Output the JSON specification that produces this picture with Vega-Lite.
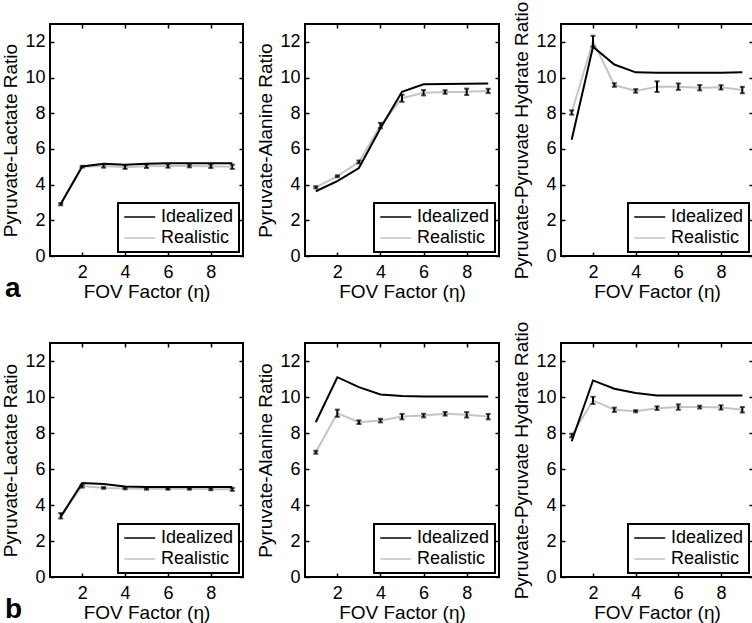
{
 "$schema": "https://vega.github.io/schema/vega-lite/v6.json",
 "padding": 0,
 "background": "white",
 "datasets": {"d": [
  {"p":"a1","s":"Idealized","x":1,"y":2.92},{"p":"a1","s":"Idealized","x":2,"y":5.02},{"p":"a1","s":"Idealized","x":3,"y":5.17},{"p":"a1","s":"Idealized","x":4,"y":5.12},{"p":"a1","s":"Idealized","x":5,"y":5.17},{"p":"a1","s":"Idealized","x":6,"y":5.2},{"p":"a1","s":"Idealized","x":7,"y":5.2},{"p":"a1","s":"Idealized","x":8,"y":5.2},{"p":"a1","s":"Idealized","x":9,"y":5.2},
  {"p":"a1","s":"Realistic","x":1,"y":2.9,"e":0.06},{"p":"a1","s":"Realistic","x":2,"y":5.0,"e":0.05},{"p":"a1","s":"Realistic","x":3,"y":5.05,"e":0.1},{"p":"a1","s":"Realistic","x":4,"y":4.98,"e":0.1},{"p":"a1","s":"Realistic","x":5,"y":5.03,"e":0.1},{"p":"a1","s":"Realistic","x":6,"y":5.05,"e":0.1},{"p":"a1","s":"Realistic","x":7,"y":5.05,"e":0.08},{"p":"a1","s":"Realistic","x":8,"y":5.03,"e":0.1},{"p":"a1","s":"Realistic","x":9,"y":5.0,"e":0.12},
  {"p":"a2","s":"Idealized","x":1,"y":3.63},{"p":"a2","s":"Idealized","x":2,"y":4.19},{"p":"a2","s":"Idealized","x":3,"y":4.93},{"p":"a2","s":"Idealized","x":4,"y":7.16},{"p":"a2","s":"Idealized","x":5,"y":9.2},{"p":"a2","s":"Idealized","x":6,"y":9.62},{"p":"a2","s":"Idealized","x":7,"y":9.64},{"p":"a2","s":"Idealized","x":8,"y":9.65},{"p":"a2","s":"Idealized","x":9,"y":9.67},
  {"p":"a2","s":"Realistic","x":1,"y":3.85,"e":0.06},{"p":"a2","s":"Realistic","x":2,"y":4.47,"e":0.05},{"p":"a2","s":"Realistic","x":3,"y":5.27,"e":0.08},{"p":"a2","s":"Realistic","x":4,"y":7.31,"e":0.15},{"p":"a2","s":"Realistic","x":5,"y":8.84,"e":0.2},{"p":"a2","s":"Realistic","x":6,"y":9.15,"e":0.15},{"p":"a2","s":"Realistic","x":7,"y":9.19,"e":0.1},{"p":"a2","s":"Realistic","x":8,"y":9.2,"e":0.18},{"p":"a2","s":"Realistic","x":9,"y":9.25,"e":0.12},
  {"p":"a3","s":"Idealized","x":1,"y":6.51},{"p":"a3","s":"Idealized","x":2,"y":11.72},{"p":"a3","s":"Idealized","x":3,"y":10.73},{"p":"a3","s":"Idealized","x":4,"y":10.29},{"p":"a3","s":"Idealized","x":5,"y":10.27},{"p":"a3","s":"Idealized","x":6,"y":10.27},{"p":"a3","s":"Idealized","x":7,"y":10.27},{"p":"a3","s":"Idealized","x":8,"y":10.27},{"p":"a3","s":"Idealized","x":9,"y":10.29},
  {"p":"a3","s":"Realistic","x":1,"y":8.04,"e":0.12},{"p":"a3","s":"Realistic","x":2,"y":12.04,"e":0.3},{"p":"a3","s":"Realistic","x":3,"y":9.58,"e":0.1},{"p":"a3","s":"Realistic","x":4,"y":9.25,"e":0.1},{"p":"a3","s":"Realistic","x":5,"y":9.49,"e":0.3},{"p":"a3","s":"Realistic","x":6,"y":9.49,"e":0.18},{"p":"a3","s":"Realistic","x":7,"y":9.43,"e":0.15},{"p":"a3","s":"Realistic","x":8,"y":9.45,"e":0.12},{"p":"a3","s":"Realistic","x":9,"y":9.3,"e":0.18},
  {"p":"b1","s":"Idealized","x":1,"y":3.34},{"p":"b1","s":"Idealized","x":2,"y":5.22},{"p":"b1","s":"Idealized","x":3,"y":5.16},{"p":"b1","s":"Idealized","x":4,"y":5.03},{"p":"b1","s":"Idealized","x":5,"y":5.0},{"p":"b1","s":"Idealized","x":6,"y":5.0},{"p":"b1","s":"Idealized","x":7,"y":5.0},{"p":"b1","s":"Idealized","x":8,"y":5.0},{"p":"b1","s":"Idealized","x":9,"y":5.0},
  {"p":"b1","s":"Realistic","x":1,"y":3.4,"e":0.15},{"p":"b1","s":"Realistic","x":2,"y":5.05,"e":0.08},{"p":"b1","s":"Realistic","x":3,"y":4.95,"e":0.05},{"p":"b1","s":"Realistic","x":4,"y":4.92,"e":0.05},{"p":"b1","s":"Realistic","x":5,"y":4.9,"e":0.05},{"p":"b1","s":"Realistic","x":6,"y":4.9,"e":0.05},{"p":"b1","s":"Realistic","x":7,"y":4.9,"e":0.05},{"p":"b1","s":"Realistic","x":8,"y":4.88,"e":0.06},{"p":"b1","s":"Realistic","x":9,"y":4.87,"e":0.08},
  {"p":"b2","s":"Idealized","x":1,"y":8.6},{"p":"b2","s":"Idealized","x":2,"y":11.1},{"p":"b2","s":"Idealized","x":3,"y":10.55},{"p":"b2","s":"Idealized","x":4,"y":10.14},{"p":"b2","s":"Idealized","x":5,"y":10.05},{"p":"b2","s":"Idealized","x":6,"y":10.03},{"p":"b2","s":"Idealized","x":7,"y":10.03},{"p":"b2","s":"Idealized","x":8,"y":10.03},{"p":"b2","s":"Idealized","x":9,"y":10.03},
  {"p":"b2","s":"Realistic","x":1,"y":6.93,"e":0.08},{"p":"b2","s":"Realistic","x":2,"y":9.1,"e":0.2},{"p":"b2","s":"Realistic","x":3,"y":8.6,"e":0.1},{"p":"b2","s":"Realistic","x":4,"y":8.69,"e":0.1},{"p":"b2","s":"Realistic","x":5,"y":8.91,"e":0.15},{"p":"b2","s":"Realistic","x":6,"y":8.97,"e":0.1},{"p":"b2","s":"Realistic","x":7,"y":9.07,"e":0.1},{"p":"b2","s":"Realistic","x":8,"y":9.01,"e":0.15},{"p":"b2","s":"Realistic","x":9,"y":8.91,"e":0.15},
  {"p":"b3","s":"Idealized","x":1,"y":7.54},{"p":"b3","s":"Idealized","x":2,"y":10.92},{"p":"b3","s":"Idealized","x":3,"y":10.46},{"p":"b3","s":"Idealized","x":4,"y":10.22},{"p":"b3","s":"Idealized","x":5,"y":10.09},{"p":"b3","s":"Idealized","x":6,"y":10.09},{"p":"b3","s":"Idealized","x":7,"y":10.09},{"p":"b3","s":"Idealized","x":8,"y":10.09},{"p":"b3","s":"Idealized","x":9,"y":10.09},
  {"p":"b3","s":"Realistic","x":1,"y":7.86,"e":0.1},{"p":"b3","s":"Realistic","x":2,"y":9.81,"e":0.2},{"p":"b3","s":"Realistic","x":3,"y":9.29,"e":0.12},{"p":"b3","s":"Realistic","x":4,"y":9.21,"e":0.06},{"p":"b3","s":"Realistic","x":5,"y":9.38,"e":0.1},{"p":"b3","s":"Realistic","x":6,"y":9.44,"e":0.15},{"p":"b3","s":"Realistic","x":7,"y":9.44,"e":0.08},{"p":"b3","s":"Realistic","x":8,"y":9.42,"e":0.12},{"p":"b3","s":"Realistic","x":9,"y":9.29,"e":0.15}
 ]},
 "data": {"name": "d"},
 "columns": 3,
 "spacing": {"row": 87, "column": 62},
 "bounds": "flush",
 "resolve": {"legend": {"color": "independent"}},
 "concat": [
    {"width": 193, "height": 232, "transform": [{"filter": "datum.p=='a1'"}],
     "title": {"text": "a", "orient": "bottom", "anchor": "start", "fontSize": 28, "fontWeight": "bold", "font": "Liberation Sans", "color": "black", "offset": -26, "dx": 3},
     "layer": [
      {"transform": [{"filter": "datum.s=='Realistic'"}], "mark": {"type": "line", "strokeWidth": 2},
       "encoding": {"x": {"field": "x", "type": "quantitative", "scale": {"domain": [0.5, 9.5], "nice": false}, "axis": {"values": [2,4,6,8], "title": "FOV Factor (η)"}},
        "y": {"field": "y", "type": "quantitative", "scale": {"domain": [0, 13], "nice": false}, "axis": {"values": [0,2,4,6,8,10,12], "title": "Pyruvate-Lactate Ratio"}},
        "color": {"field": "s", "type": "nominal", "scale": {"domain": ["Idealized", "Realistic"], "range": ["#000000", "#c4c4c4"]}, "legend": {"title": null}}}},
      {"transform": [{"filter": "datum.s=='Realistic'"}], "mark": {"type": "errorbar", "color": "black", "thickness": 2, "ticks": {"size": 5, "thickness": 2}},
       "encoding": {"x": {"field": "x", "type": "quantitative", "axis": null}, "y": {"field": "y", "type": "quantitative", "axis": null}, "yError": {"field": "e"}}},
      {"transform": [{"filter": "datum.s=='Idealized'"}], "mark": {"type": "line", "strokeWidth": 2},
       "encoding": {"x": {"field": "x", "type": "quantitative", "axis": {"orient": "top", "values": [2,4,6,8], "labels": false, "title": null}},
        "y": {"field": "y", "type": "quantitative", "axis": {"orient": "right", "values": [0,2,4,6,8,10,12], "labels": false, "title": null}},
        "color": {"field": "s", "type": "nominal", "legend": {"title": null}}}}
     ],
     "resolve": {"axis": {"x": "independent", "y": "independent"}}},
    {"width": 194, "height": 232, "transform": [{"filter": "datum.p=='a2'"}],
     "layer": [
      {"transform": [{"filter": "datum.s=='Realistic'"}], "mark": {"type": "line", "strokeWidth": 2},
       "encoding": {"x": {"field": "x", "type": "quantitative", "scale": {"domain": [0.5, 9.5], "nice": false}, "axis": {"values": [2,4,6,8], "title": "FOV Factor (η)"}},
        "y": {"field": "y", "type": "quantitative", "scale": {"domain": [0, 13], "nice": false}, "axis": {"values": [0,2,4,6,8,10,12], "title": "Pyruvate-Alanine Ratio"}},
        "color": {"field": "s", "type": "nominal", "scale": {"domain": ["Idealized", "Realistic"], "range": ["#000000", "#c4c4c4"]}, "legend": {"title": null}}}},
      {"transform": [{"filter": "datum.s=='Realistic'"}], "mark": {"type": "errorbar", "color": "black", "thickness": 2, "ticks": {"size": 5, "thickness": 2}},
       "encoding": {"x": {"field": "x", "type": "quantitative", "axis": null}, "y": {"field": "y", "type": "quantitative", "axis": null}, "yError": {"field": "e"}}},
      {"transform": [{"filter": "datum.s=='Idealized'"}], "mark": {"type": "line", "strokeWidth": 2},
       "encoding": {"x": {"field": "x", "type": "quantitative", "axis": {"orient": "top", "values": [2,4,6,8], "labels": false, "title": null}},
        "y": {"field": "y", "type": "quantitative", "axis": {"orient": "right", "values": [0,2,4,6,8,10,12], "labels": false, "title": null}},
        "color": {"field": "s", "type": "nominal", "legend": {"title": null}}}}
     ],
     "resolve": {"axis": {"x": "independent", "y": "independent"}}},
    {"width": 192, "height": 232, "transform": [{"filter": "datum.p=='a3'"}],
     "layer": [
      {"transform": [{"filter": "datum.s=='Realistic'"}], "mark": {"type": "line", "strokeWidth": 2},
       "encoding": {"x": {"field": "x", "type": "quantitative", "scale": {"domain": [0.5, 9.5], "nice": false}, "axis": {"values": [2,4,6,8], "title": "FOV Factor (η)"}},
        "y": {"field": "y", "type": "quantitative", "scale": {"domain": [0, 13], "nice": false}, "axis": {"values": [0,2,4,6,8,10,12], "title": "Pyruvate-Pyruvate Hydrate Ratio"}},
        "color": {"field": "s", "type": "nominal", "scale": {"domain": ["Idealized", "Realistic"], "range": ["#000000", "#c4c4c4"]}, "legend": {"title": null}}}},
      {"transform": [{"filter": "datum.s=='Realistic'"}], "mark": {"type": "errorbar", "color": "black", "thickness": 2, "ticks": {"size": 5, "thickness": 2}},
       "encoding": {"x": {"field": "x", "type": "quantitative", "axis": null}, "y": {"field": "y", "type": "quantitative", "axis": null}, "yError": {"field": "e"}}},
      {"transform": [{"filter": "datum.s=='Idealized'"}], "mark": {"type": "line", "strokeWidth": 2},
       "encoding": {"x": {"field": "x", "type": "quantitative", "axis": {"orient": "top", "values": [2,4,6,8], "labels": false, "title": null}},
        "y": {"field": "y", "type": "quantitative", "axis": {"orient": "right", "values": [0,2,4,6,8,10,12], "labels": false, "title": null}},
        "color": {"field": "s", "type": "nominal", "legend": {"title": null}}}}
     ],
     "resolve": {"axis": {"x": "independent", "y": "independent"}}},
    {"width": 193, "height": 234, "transform": [{"filter": "datum.p=='b1'"}],
     "title": {"text": "b", "orient": "bottom", "anchor": "start", "fontSize": 28, "fontWeight": "bold", "font": "Liberation Sans", "color": "black", "offset": -26, "dx": 3},
     "layer": [
      {"transform": [{"filter": "datum.s=='Realistic'"}], "mark": {"type": "line", "strokeWidth": 2},
       "encoding": {"x": {"field": "x", "type": "quantitative", "scale": {"domain": [0.5, 9.5], "nice": false}, "axis": {"values": [2,4,6,8], "title": "FOV Factor (η)"}},
        "y": {"field": "y", "type": "quantitative", "scale": {"domain": [0, 13], "nice": false}, "axis": {"values": [0,2,4,6,8,10,12], "title": "Pyruvate-Lactate Ratio"}},
        "color": {"field": "s", "type": "nominal", "scale": {"domain": ["Idealized", "Realistic"], "range": ["#000000", "#c4c4c4"]}, "legend": {"title": null}}}},
      {"transform": [{"filter": "datum.s=='Realistic'"}], "mark": {"type": "errorbar", "color": "black", "thickness": 2, "ticks": {"size": 5, "thickness": 2}},
       "encoding": {"x": {"field": "x", "type": "quantitative", "axis": null}, "y": {"field": "y", "type": "quantitative", "axis": null}, "yError": {"field": "e"}}},
      {"transform": [{"filter": "datum.s=='Idealized'"}], "mark": {"type": "line", "strokeWidth": 2},
       "encoding": {"x": {"field": "x", "type": "quantitative", "axis": {"orient": "top", "values": [2,4,6,8], "labels": false, "title": null}},
        "y": {"field": "y", "type": "quantitative", "axis": {"orient": "right", "values": [0,2,4,6,8,10,12], "labels": false, "title": null}},
        "color": {"field": "s", "type": "nominal", "legend": {"title": null}}}}
     ],
     "resolve": {"axis": {"x": "independent", "y": "independent"}}},
    {"width": 194, "height": 234, "transform": [{"filter": "datum.p=='b2'"}],
     "layer": [
      {"transform": [{"filter": "datum.s=='Realistic'"}], "mark": {"type": "line", "strokeWidth": 2},
       "encoding": {"x": {"field": "x", "type": "quantitative", "scale": {"domain": [0.5, 9.5], "nice": false}, "axis": {"values": [2,4,6,8], "title": "FOV Factor (η)"}},
        "y": {"field": "y", "type": "quantitative", "scale": {"domain": [0, 13], "nice": false}, "axis": {"values": [0,2,4,6,8,10,12], "title": "Pyruvate-Alanine Ratio"}},
        "color": {"field": "s", "type": "nominal", "scale": {"domain": ["Idealized", "Realistic"], "range": ["#000000", "#c4c4c4"]}, "legend": {"title": null}}}},
      {"transform": [{"filter": "datum.s=='Realistic'"}], "mark": {"type": "errorbar", "color": "black", "thickness": 2, "ticks": {"size": 5, "thickness": 2}},
       "encoding": {"x": {"field": "x", "type": "quantitative", "axis": null}, "y": {"field": "y", "type": "quantitative", "axis": null}, "yError": {"field": "e"}}},
      {"transform": [{"filter": "datum.s=='Idealized'"}], "mark": {"type": "line", "strokeWidth": 2},
       "encoding": {"x": {"field": "x", "type": "quantitative", "axis": {"orient": "top", "values": [2,4,6,8], "labels": false, "title": null}},
        "y": {"field": "y", "type": "quantitative", "axis": {"orient": "right", "values": [0,2,4,6,8,10,12], "labels": false, "title": null}},
        "color": {"field": "s", "type": "nominal", "legend": {"title": null}}}}
     ],
     "resolve": {"axis": {"x": "independent", "y": "independent"}}},
    {"width": 192, "height": 234, "transform": [{"filter": "datum.p=='b3'"}],
     "layer": [
      {"transform": [{"filter": "datum.s=='Realistic'"}], "mark": {"type": "line", "strokeWidth": 2},
       "encoding": {"x": {"field": "x", "type": "quantitative", "scale": {"domain": [0.5, 9.5], "nice": false}, "axis": {"values": [2,4,6,8], "title": "FOV Factor (η)"}},
        "y": {"field": "y", "type": "quantitative", "scale": {"domain": [0, 13], "nice": false}, "axis": {"values": [0,2,4,6,8,10,12], "title": "Pyruvate-Pyruvate Hydrate Ratio"}},
        "color": {"field": "s", "type": "nominal", "scale": {"domain": ["Idealized", "Realistic"], "range": ["#000000", "#c4c4c4"]}, "legend": {"title": null}}}},
      {"transform": [{"filter": "datum.s=='Realistic'"}], "mark": {"type": "errorbar", "color": "black", "thickness": 2, "ticks": {"size": 5, "thickness": 2}},
       "encoding": {"x": {"field": "x", "type": "quantitative", "axis": null}, "y": {"field": "y", "type": "quantitative", "axis": null}, "yError": {"field": "e"}}},
      {"transform": [{"filter": "datum.s=='Idealized'"}], "mark": {"type": "line", "strokeWidth": 2},
       "encoding": {"x": {"field": "x", "type": "quantitative", "axis": {"orient": "top", "values": [2,4,6,8], "labels": false, "title": null}},
        "y": {"field": "y", "type": "quantitative", "axis": {"orient": "right", "values": [0,2,4,6,8,10,12], "labels": false, "title": null}},
        "color": {"field": "s", "type": "nominal", "legend": {"title": null}}}}
     ],
     "resolve": {"axis": {"x": "independent", "y": "independent"}}}
 ],
 "config": {
  "font": "Liberation Sans",
  "view": {"stroke": "black", "strokeWidth": 2},
  "axis": {"domain": false, "grid": false, "ticks": true, "tickSize": -4, "tickWidth": 1.5, "tickColor": "black", "labelFontSize": 18, "labelColor": "black", "labelFont": "Liberation Sans", "titleFont": "Liberation Sans", "titleFontSize": 19, "titleFontWeight": "normal", "titleColor": "black", "labelFlush": false},
  "axisX": {"labelPadding": 11, "titlePadding": 1},
  "axisY": {"labelPadding": 9, "titlePadding": 4},
  "legend": {"orient": "bottom-right", "offset": 4, "strokeColor": "black", "strokeWidth": 2, "fillColor": "white", "padding": 5, "symbolType": "M-1,0H3", "symbolSize": 240, "symbolStrokeWidth": 1.5, "labelFontSize": 18, "labelFont": "Liberation Sans", "labelColor": "black", "labelOffset": 20, "rowPadding": 3, "labelLimit": 200}
 }
}
